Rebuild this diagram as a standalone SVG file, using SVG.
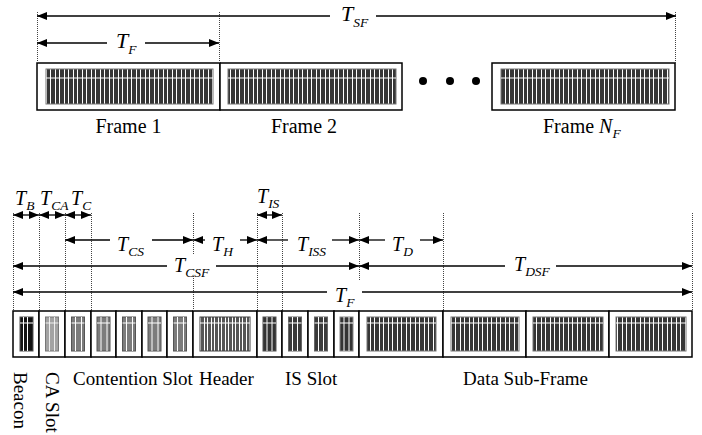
<svg xmlns="http://www.w3.org/2000/svg" width="702" height="435" viewBox="0 0 702 435">
<style>
.cell{fill:#fff;stroke:#000;stroke-width:1.5}
.dim{stroke:#000;stroke-width:1.3;fill:none;marker-end:url(#ah)}
.dims{stroke:#000;stroke-width:1.3;fill:none;marker-start:url(#ah)}
.dimb{stroke:#000;stroke-width:1.3;fill:none;marker-start:url(#ah);marker-end:url(#ah)}
.dot{stroke:#444;stroke-width:1;stroke-dasharray:1 1;fill:none}
.wl{stroke:#fff;stroke-width:1;fill:none}
.lbl{font-family:"Liberation Serif","Times New Roman",serif;font-size:19px;fill:#000}
.fl{font-family:"Liberation Serif","Times New Roman",serif;font-size:20px;fill:#000}
.t{font-family:"Liberation Serif","Times New Roman",serif;font-style:italic;font-size:20px;fill:#000}
.tt{font-family:"Liberation Serif","Times New Roman",serif;font-style:italic;font-size:22px;fill:#000}
.s{font-size:13.5px}
.dk{fill:url(#pData);stroke:#777;stroke-width:1}
</style>
<defs>
<marker id="ah" viewBox="0 0 10 8" refX="10" refY="4" markerWidth="10" markerHeight="8" markerUnits="userSpaceOnUse" orient="auto-start-reverse"><path d="M0 0L10 4L0 8z" fill="#000"/></marker>
<pattern id="pData" patternUnits="userSpaceOnUse" width="9" height="10"><rect width="9" height="10" fill="#363636"/><rect x="1" width="1" height="10" fill="#fff"/><rect x="5" width="1" height="10" fill="#fff"/></pattern>
<pattern id="pHead" patternUnits="userSpaceOnUse" width="7" height="10"><rect width="7" height="10" fill="#555"/><rect x="1" width="1" height="10" fill="#fff"/><rect x="4" width="1" height="10" fill="#fff"/></pattern>
</defs>

<g id="frame1">
<rect class="cell" x="37" y="63" width="183" height="47"/>
<rect class="dk" x="46" y="69" width="167" height="35"/>
<path class="wl" d="M46 78H213"/>
<text class="fl" x="128.5" y="133" text-anchor="middle">Frame 1</text>
</g>
<g id="frame2">
<rect class="cell" x="220" y="63" width="182" height="47"/>
<rect class="dk" x="228" y="69" width="168" height="35"/>
<path class="wl" d="M228 78H396"/>
<text class="fl" x="304" y="133" text-anchor="middle">Frame 2</text>
</g>
<g id="ellipsis">
<circle cx="423" cy="81" r="4"/>
<circle cx="450" cy="81" r="4"/>
<circle cx="476" cy="81" r="4"/>
</g>
<g id="frameN">
<rect class="cell" x="492" y="63" width="183" height="47"/>
<rect class="dk" x="501" y="69" width="168" height="35"/>
<path class="wl" d="M501 78H669"/>
<text class="fl" x="543" y="133">Frame <tspan font-style="italic">N</tspan><tspan font-style="italic" class="s" dy="5">F</tspan></text>
</g>

<g id="beacon">
<rect class="cell" x="13" y="311" width="26" height="46"/>
<rect x="20" y="317" width="13" height="34" fill="#111" stroke="#555"/>
<path class="wl" d="M23.5 317V351M27.5 317V351M20 323H33"/>
<text class="lbl" transform="translate(14,372) rotate(90)">Beacon</text>
</g>
<g id="caSlot">
<rect class="cell" x="39" y="311" width="26" height="46"/>
<rect x="45.5" y="317" width="13" height="34" fill="#a3a3a3" stroke="#777"/>
<path class="wl" d="M49.5 317V351M54.5 317V351M45.5 323H58.5" stroke-opacity="0.8"/>
<text class="lbl" transform="translate(46,372) rotate(90)">CA Slot</text>
</g>
<g id="cs1">
<rect class="cell" x="65" y="311" width="26" height="46"/>
<rect x="71.5" y="317" width="13" height="34" fill="#7c7c7c" stroke="#555"/>
<path class="wl" d="M75.5 317V351M81.5 317V351M71.5 323H84.5"/>
</g>
<g id="cs2">
<rect class="cell" x="91" y="311" width="25" height="46"/>
<rect x="97" y="317" width="13" height="34" fill="#7c7c7c" stroke="#555"/>
<path class="wl" d="M101 317V351M107 317V351M97 323H110"/>
</g>
<g id="cs3">
<rect class="cell" x="116" y="311" width="26" height="46"/>
<rect x="122.5" y="317" width="13" height="34" fill="#7c7c7c" stroke="#555"/>
<path class="wl" d="M126.5 317V351M132.5 317V351M122.5 323H135.5"/>
</g>
<g id="cs4">
<rect class="cell" x="142" y="311" width="25" height="46"/>
<rect x="148" y="317" width="13" height="34" fill="#7c7c7c" stroke="#555"/>
<path class="wl" d="M152 317V351M158 317V351M148 323H161"/>
</g>
<g id="cs5">
<rect class="cell" x="167" y="311" width="26" height="46"/>
<rect x="173.5" y="317" width="13" height="34" fill="#7c7c7c" stroke="#555"/>
<path class="wl" d="M177.5 317V351M183.5 317V351M173.5 323H186.5"/>
<text class="lbl" x="73" y="385">Contention Slot</text>
</g>
<g id="header">
<rect class="cell" x="193" y="311" width="64" height="46"/>
<rect x="200" y="317" width="50" height="34" fill="url(#pHead)" stroke="#444"/>
<path class="wl" d="M200 323H250"/>
<text class="lbl" x="199" y="385">Header</text>
</g>
<g id="is1">
<rect class="cell" x="257" y="311" width="25" height="46"/>
<rect x="263" y="317" width="13" height="34" fill="#333" stroke="#555"/>
<path class="wl" d="M267 317V351M272 317V351M263 323H276"/>
</g>
<g id="is2">
<rect class="cell" x="282" y="311" width="26" height="46"/>
<rect x="288.5" y="317" width="13" height="34" fill="#3a3a3a" stroke="#666"/>
<path class="wl" d="M292.5 317V351M297.5 317V351M288.5 323H301.5"/>
</g>
<g id="is3">
<rect class="cell" x="308" y="311" width="26" height="46"/>
<rect x="314.5" y="317" width="13" height="34" fill="#3a3a3a" stroke="#666"/>
<path class="wl" d="M318.5 317V351M323.5 317V351M314.5 323H327.5"/>
</g>
<g id="is4">
<rect class="cell" x="334" y="311" width="25" height="46"/>
<rect x="340" y="317" width="13" height="34" fill="#333" stroke="#888"/>
<path class="wl" d="M344 317V351M349 317V351M340 323H353"/>
<text class="lbl" x="285" y="385">IS Slot</text>
</g>
<g id="data1">
<rect class="cell" x="359" y="311" width="84" height="46"/>
<rect class="dk" x="367" y="317" width="69" height="34"/>
<path class="wl" d="M367 323H436"/>
</g>
<g id="data2">
<rect class="cell" x="443" y="311" width="83" height="46"/>
<rect class="dk" x="451" y="317" width="68" height="34"/>
<path class="wl" d="M451 323H519"/>
<text class="lbl" x="463" y="385">Data Sub-Frame</text>
</g>
<g id="data3">
<rect class="cell" x="526" y="311" width="83" height="46"/>
<rect class="dk" x="533" y="317" width="70" height="34"/>
<path class="wl" d="M533 323H603"/>
</g>
<g id="data4">
<rect class="cell" x="609" y="311" width="83" height="46"/>
<rect class="dk" x="616" y="317" width="70" height="34"/>
<path class="wl" d="M616 323H686"/>
</g>

<g id="connectors">
<path class="dot" d="M37.5 12V63M219.5 12V63M675.5 12V63"/>
<path class="dims" d="M37 16H330"/>
<path class="dim" d="M376 16H676"/>
<text class="tt" x="341" y="21">T<tspan class="s" dy="6">SF</tspan></text>
<path class="dims" d="M37 43H107"/>
<path class="dim" d="M145 43H219"/>
<text class="tt" x="116" y="48">T<tspan class="s" dy="6">F</tspan></text>

<path class="dot" d="M13.5 213V311M39.5 213V311M65.5 213V311M91.5 213V311M193.5 213V255M193.5 276V311M257.5 213V311M282.5 213V311M359.5 213V280M443.5 213V311M692.5 213V311"/>

<path class="dimb" d="M13 215H39"/>
<path class="dimb" d="M39 215H65"/>
<path class="dimb" d="M65 215H91"/>
<path class="dimb" d="M257 215H282"/>
<text class="t" x="15" y="205">T<tspan class="s" dy="5">B</tspan></text>
<text class="t" x="40" y="205">T<tspan class="s" dy="5">CA</tspan></text>
<text class="t" x="71" y="205">T<tspan class="s" dy="5">C</tspan></text>
<text class="t" x="257" y="203">T<tspan class="s" dy="5">IS</tspan></text>

<path class="dims" d="M65 240H110"/>
<path class="dim" d="M152 240H193"/>
<text class="t" x="117" y="251">T<tspan class="s" dy="5">CS</tspan></text>
<path class="dims" d="M193 240H205"/>
<path class="dim" d="M240 240H257"/>
<text class="t" x="212" y="251">T<tspan class="s" dy="5">H</tspan></text>
<path class="dims" d="M257 240H288"/>
<path class="dim" d="M332 240H359"/>
<text class="t" x="297" y="251">T<tspan class="s" dy="5">ISS</tspan></text>
<path class="dims" d="M359 240H385"/>
<path class="dim" d="M420 240H443"/>
<text class="t" x="392" y="251">T<tspan class="s" dy="5">D</tspan></text>

<path class="dims" d="M13 266H167"/>
<path class="dim" d="M216 266H359"/>
<text class="t" x="174" y="272">T<tspan class="s" dy="5">CSF</tspan></text>
<path class="dims" d="M359 266H505"/>
<path class="dim" d="M556 266H692"/>
<text class="t" x="514" y="271">T<tspan class="s" dy="5">DSF</tspan></text>

<path class="dims" d="M13 292H327"/>
<path class="dim" d="M362 292H692"/>
<text class="t" x="335" y="302">T<tspan class="s" dy="5">F</tspan></text>
</g>
</svg>
